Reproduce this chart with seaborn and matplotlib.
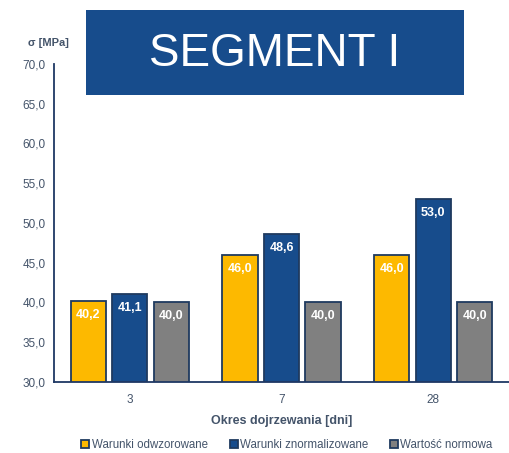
import matplotlib
matplotlib.use("Agg")
import matplotlib.pyplot as plt
import seaborn as sns
import pandas as pd
from matplotlib.patches import Rectangle

categories = ["3", "7", "28"]
series_names = ["Warunki odwzorowane", "Warunki znormalizowane", "Wartość normowa"]
odwzorowane = [40.2, 46.0, 46.0]
znormalizowane = [41.1, 48.6, 53.0]
normowa = [40.0, 40.0, 40.0]
yticks = [30, 35, 40, 45, 50, 55, 60, 65, 70]
colors = ["#FDB900", "#174C8C", "#808080"]

rows = []
for name, vals in zip(series_names, [odwzorowane, znormalizowane, normowa]):
    for c, v in zip(categories, vals):
        rows.append({"Okres": c, "Seria": name, "Wartosc": v})
df = pd.DataFrame(rows)

sns.set_style("white")
plt.rcParams["font.family"] = ["Liberation Sans", "DejaVu Sans"]

fig = plt.figure(figsize=(5.10, 4.53), dpi=100)
ax = fig.add_axes([0.106, 0.157, 0.892, 0.702])

sns.barplot(data=df, x="Okres", y="Wartosc", hue="Seria", order=categories,
            hue_order=series_names, palette=colors, saturation=1,
            width=0.82, gap=0.15,
            edgecolor="#1F3A5F", linewidth=1.3, ax=ax, legend=True)

ax.set_ylim(30, 70)
ax.set_xlim(-0.5, 2.5)
ax.set_yticks(yticks)
ax.set_yticklabels([f"{t:.1f}".replace(".", ",") for t in yticks])
ax.tick_params(axis="both", length=0, labelsize=8.5, colors="#44546A", pad=6)
ax.tick_params(axis="x", pad=9)
for s in ["top", "right"]:
    ax.spines[s].set_visible(False)
for s in ["left", "bottom"]:
    ax.spines[s].set_color("#1F3864")
    ax.spines[s].set_linewidth(1.3)
ax.set_ylabel("")
ax.set_xlabel("Okres dojrzewania [dni]", fontsize=9, fontweight="bold",
              color="#44546A", labelpad=6)

for cont in ax.containers:
    for bar in cont:
        h = bar.get_height()
        ax.text(bar.get_x() + bar.get_width() / 2, h - 1.75,
                f"{h:.1f}".replace(".", ","), ha="center", va="center",
                color="white", fontsize=9, fontweight="bold")

fig.text(0.055, 0.905, "σ [MPa]", fontsize=8, fontweight="bold",
         color="#44546A", ha="left", va="center")

banner = Rectangle((86 / 510, 1 - 95 / 453), (464 - 86) / 510, 85 / 453,
                   transform=fig.transFigure, facecolor="#174C8C",
                   edgecolor="none")
fig.add_artist(banner)
fig.text((86 + 464) / 2 / 510, 1 - 54 / 453, "SEGMENT I", fontsize=33,
         color="white", ha="center", va="center")

leg = ax.legend(loc="center", bbox_to_anchor=(0.512, -0.198), ncol=3,
                frameon=False, fontsize=8.3, handlelength=0.7,
                handleheight=0.7, handletextpad=0.2, columnspacing=1.9)
for t in leg.get_texts():
    t.set_color("#44546A")

fig.savefig("out.png", dpi=100)
